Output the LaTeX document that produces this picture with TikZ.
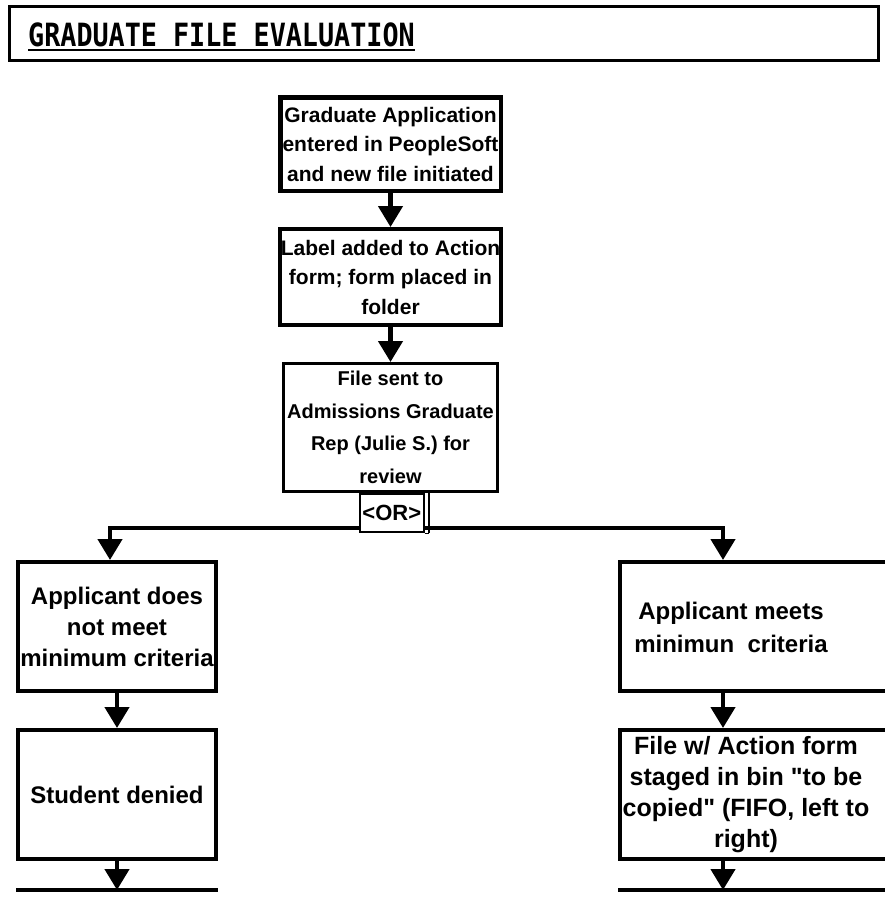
\documentclass[tikz,border=0pt]{standalone}
\usepackage{fontspec}
\setmainfont{Liberation Sans}[Ligatures=TeXOff]
\newfontfamily\titlefont{DejaVu Sans Mono}[FakeStretch=0.836]
\usetikzlibrary{arrows.meta}
\begin{document}
\begin{tikzpicture}[x=1pt,y=-1pt,
  box/.style={draw, line width=3.5pt, inner sep=0pt, align=center},
  topfont/.style={font=\bfseries\fontsize{21}{29.5}\selectfont},
  lowfont/.style={font=\bfseries\fontsize{24}{31}\selectfont},
  txt/.style={inner sep=0pt, align=center},
  conn/.style={line width=4.5pt},
  arr/.style={line width=4.5pt, -{Triangle[width=24pt,length=21pt]}},
]
\useasboundingbox (0,0) rectangle (885,900);

% title
\node[draw, line width=3pt, minimum width=869pt, minimum height=54pt, inner sep=0pt] (titlebox) at (444,33.5) {};
\node[anchor=base west, inner sep=0pt, font=\titlefont\bfseries\fontsize{32}{32}\selectfont] (title) at (28,46) {GRADUATE FILE EVALUATION};
\draw[line width=2pt] ([yshift=-3.5pt]title.base west) -- ([yshift=-3.5pt]title.base east);

% central column
\node[box, topfont, line width=4.5pt, minimum width=220.5pt, minimum height=93.5pt] (b1) at (390.5,144)
  {Graduate Application\\entered in PeopleSoft\\and new file initiated};
\node[box, topfont, line width=4pt, minimum width=221pt, minimum height=96pt] (b2) at (390.5,277)
  {Label added to Action\\form; form placed in\\folder};
\node[box, line width=3pt, font=\bfseries\fontsize{20}{32.5}\selectfont, minimum width=214pt, minimum height=128pt] (b3) at (390.5,427.5)
  {File sent to\\Admissions Graduate\\Rep (Julie S.) for\\review};
\draw[arr] (b1) -- (b2);
\draw[arr] (b2) -- (b3);

% split
\coordinate (jl) at (110,528);
\coordinate (jr) at (723,528);
\draw[conn, line cap=rect] (jl) -- (jr);
\node[draw, line width=2pt, fill=white, minimum width=63.5pt, minimum height=38pt, inner sep=0pt,
  font=\bfseries\fontsize{22}{22}\selectfont, anchor=north] (or) at ([xshift=1.25pt]b3.south) {<OR>};
\draw[line width=2.5pt] ([xshift=4.5pt]or.north east) -- ([xshift=4.5pt]or.south east);
\draw[line width=1pt] (or.south east) -- ([xshift=4.5pt]or.south east);

% left branch
\node[box, lowfont, line width=4pt, minimum width=198pt, minimum height=129pt] (lb1) at (117,626.5)
  {Applicant does\\not meet\\minimum criteria};
\node[box, lowfont, line width=4pt, minimum width=198pt, minimum height=129pt] (lb2) at (117,794.5)
  {Student denied};
\coordinate (lend) at (117,890);
\draw[arr] (jl) -- (jl |- lb1.north);
\draw[arr] (lb1) -- (lb2);
\draw[conn] (lb2.west |- lend) -- (lb2.east |- lend);
\draw[arr] (lb2) -- (lend);

% right branch
\node[box, line width=4pt, minimum width=320pt, minimum height=129pt] (rb1) at (780,626.5) {};
\node[txt, font=\bfseries\fontsize{24}{33}\selectfont] (rb1t) at (731,627) {Applicant meets\\minimun\ \ criteria};
\node[box, line width=4pt, minimum width=320pt, minimum height=129pt] (rb2) at (780,794.5) {};
\node[txt, font=\bfseries\fontsize{25}{31}\selectfont] (rb2t) at (746,795) {File w/ Action form\\staged in bin "to be\\copied" (FIFO, left to\\right)};
\coordinate (rend) at (723,890);
\draw[arr] (jr) -- (jr |- rb1.north);
\draw[arr] (rb1.south -| jr) -- (rb2.north -| jr);
\draw[conn] (rb2.west |- rend) -- ++(320,0);
\draw[arr] (rb2.south -| jr) -- (rend);
\end{tikzpicture}
\end{document}
